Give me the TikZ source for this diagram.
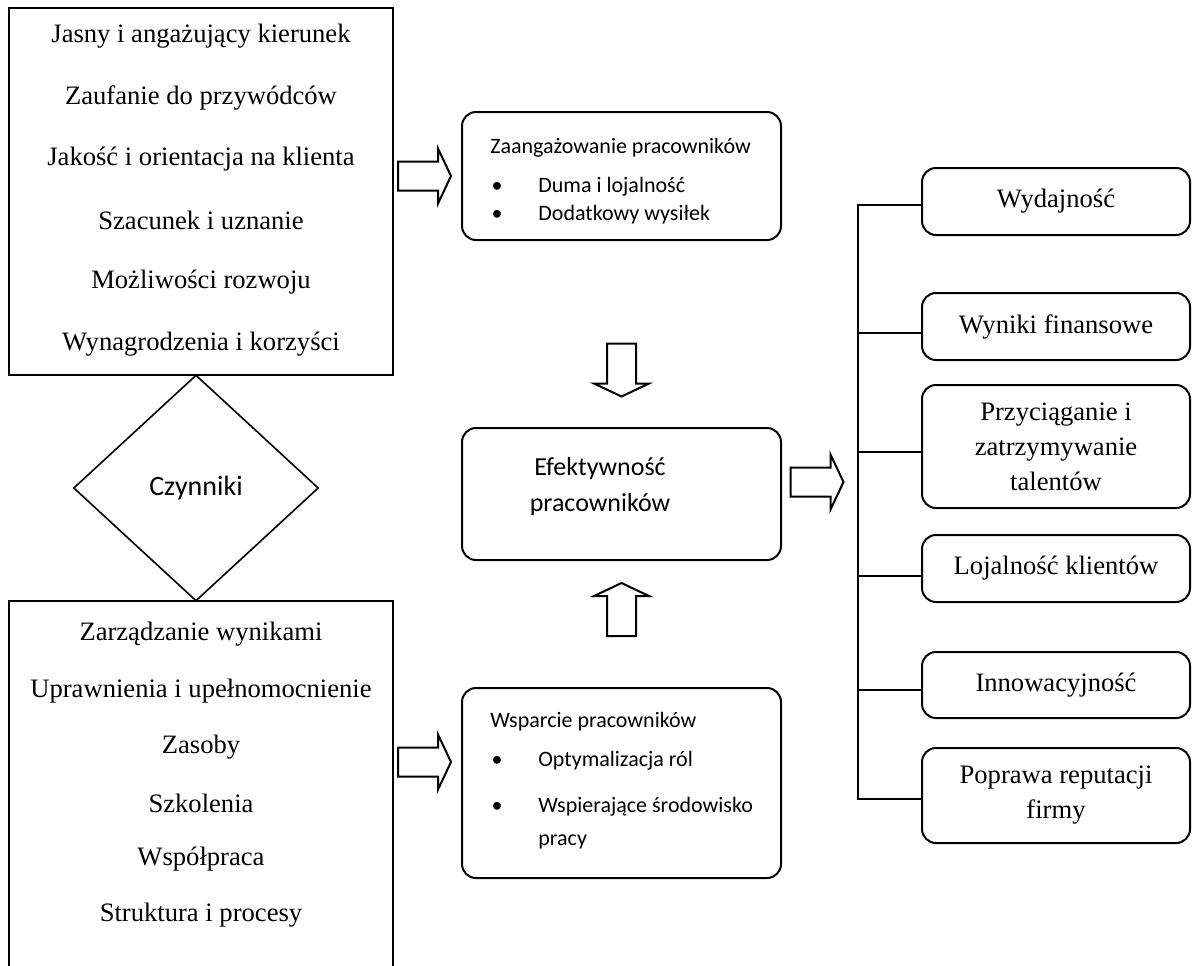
\documentclass[tikz,border=0pt]{standalone}
\usepackage{fontspec}
\setmainfont{Liberation Serif}
\newfontfamily\calibri{Carlito}
\usetikzlibrary{shapes.geometric}

\begin{document}
\begin{tikzpicture}[x=0.5pt,y=-0.5pt,
    box/.style={draw,line width=1.1pt,minimum width=192pt,inner sep=0pt},
    rbox/.style={draw,line width=1pt,rounded corners=7pt,minimum width=159.5pt,inner sep=0pt},
    wbox/.style={draw,line width=1pt,rounded corners=7pt,minimum width=134pt,align=center,
      font=\fontsize{13.3}{17.5}\selectfont},
    blok/.pic={\draw[line width=1pt] (-26.5,-14.5) -- (13.5,-14.5) -- (13.5,-27.5) -- (26.5,0)
      -- (13.5,27.5) -- (13.5,14.5) -- (-26.5,14.5) -- cycle;},
    txt/.style={font=\fontsize{13.3}{15}\selectfont},
    cal/.style={font=\calibri\fontsize{11}{13}\selectfont,anchor=west,inner sep=0pt}]
  \useasboundingbox (0,0) rectangle (1192,965);

  \node[box,minimum height=183.5pt] (gora) at (201,191.5) {};
  \foreach \tekst [count=\i] in {Jasny i angażujący kierunek,Zaufanie do przywódców,
      Jakość i orientacja na klienta,Szacunek i uznanie,Możliwości rozwoju,
      Wynagrodzenia i korzyści}
    \node[txt] (g\i) at (201,{36+61.6*(\i-1)}) {\tekst};

  \node[box,minimum height=187pt] (dol) at (201,788) {};
  \foreach \tekst [count=\i] in {Zarządzanie wynikami,Uprawnienia i upełnomocnienie,
      Zasoby,Szkolenia,Współpraca,Struktura i procesy}
    \node[txt] (d\i) at (201,{634.5+56.2*(\i-1)}) {\tekst};

  \node[draw,diamond,line width=0.8pt,minimum width=122.5pt,minimum height=113pt,inner sep=0pt,
    font=\calibri\fontsize{14}{16}\selectfont] (czynniki) at (196,488) {Czynniki};

  \node[rbox,minimum height=64pt] (zaang) at (621.5,176) {};
  \node[cal] (zaangt) at (490,148) {Zaangażowanie pracowników};
  \node[cal,anchor=center] (zb1) at (497,187) {•};
  \node[cal] (zt1) at (538,187) {Duma i lojalność};
  \node[cal,anchor=center] (zb2) at (497,215) {•};
  \node[cal] (zt2) at (538,215) {Dodatkowy wysiłek};

  \node[rbox,minimum height=66pt] (efekt) at (621.5,494) {};
  \node[align=center,font=\calibri\fontsize{13}{18}\selectfont] (efektt) at (600,487)
    {Efektywność\\pracowników};

  \node[rbox,minimum height=95pt] (wsp) at (621.5,783) {};
  \node[cal] (wspt) at (490,722) {Wsparcie pracowników};
  \node[cal,anchor=center] (wb1) at (497,761) {•};
  \node[cal] (wt1) at (538,761) {Optymalizacja ról};
  \node[cal,anchor=center] (wb2) at (497,807) {•};
  \node[cal] (wt2) at (538,807) {Wspierające środowisko};
  \node[cal] (wt3) at (538,842) {pracy};

  \pic (s1) at (424.5,176) {blok};
  \pic (s2) at (424.5,762) {blok};
  \pic[rotate=-90] (s3) at (621.5,370) {blok};
  \pic[rotate=90] (s4) at (621.5,609.5) {blok};
  \pic (s5) at (817,482) {blok};

  \node[wbox,minimum height=33.5pt] (r1) at (1056,201.5) {Wydajność};
  \node[wbox,minimum height=33.5pt] (r2) at (1056,326.5) {Wyniki finansowe};
  \node[wbox,minimum height=61.5pt] (r3) at (1056,446.5) {Przyciąganie i\\zatrzymywanie\\talentów};
  \node[wbox,minimum height=33.5pt] (r4) at (1056,568.5) {Lojalność klientów};
  \node[wbox,minimum height=33pt] (r5) at (1056,685) {Innowacyjność};
  \node[wbox,minimum height=47.5pt] (r6) at (1056,795.5) {Poprawa reputacji\\firmy};

  \draw[line width=1pt] ([yshift=-1.75pt]r1.west) -- ++(-63,0) |- ([yshift=-1.75pt]r6.west);
  \foreach \i/\dy in {2/-3.25pt,3/-2.75pt,4/-3.75pt,5/-2.5pt}
    \draw[line width=1pt] ([yshift=\dy]r\i.west) -- ++(-63,0);
\end{tikzpicture}
\end{document}
